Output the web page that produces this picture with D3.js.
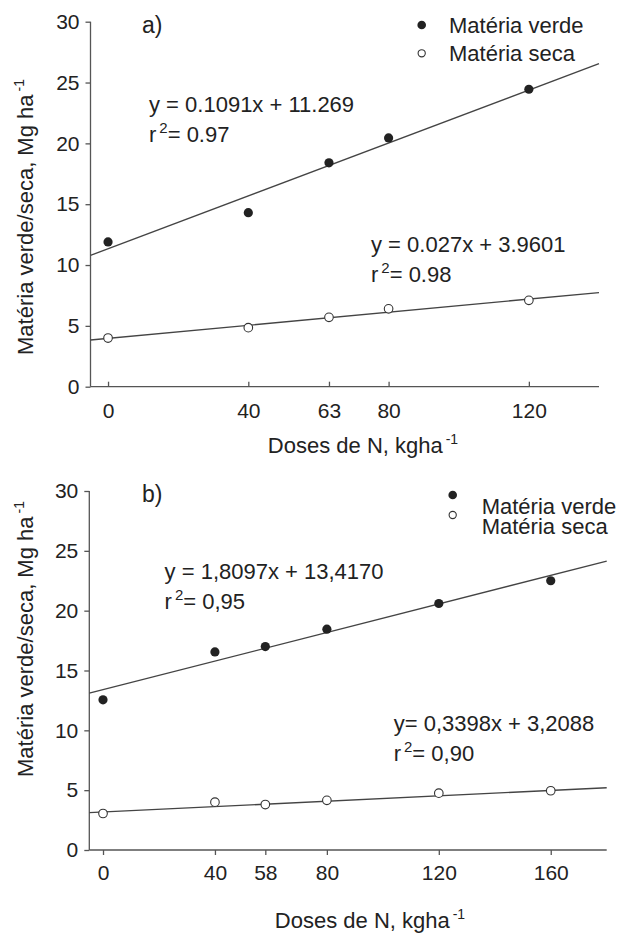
<!DOCTYPE html>
<meta charset="utf-8">
<head>
    <title>Matéria verde e seca</title>
</head>
<style>
    body { margin: 0; background: #fff; }
    text { font-family: "Liberation Sans", Arial, sans-serif; fill: #222; }
</style>
<div id="chart"></div>
<script src="https://d3js.org/d3.v7.min.js"></script>
<script>

    // panel a)
    var dosesA = [0, 40, 63, 80, 120];
    var verdeA = [11.9, 14.3, 18.4, 20.45, 24.45];
    var secaA = [4.0, 4.85, 5.7, 6.4, 7.1];
    var fitVerdeA = [[-5, 10.8], [140, 26.55]];
    var fitSecaA = [[-5, 3.84], [140, 7.74]];
    var eqA = [["y = 0.1091x + 11.269", "0.97"], ["y = 0.027x + 3.9601", "0.98"]];

    // panel b)
    var dosesB = [0, 40, 58, 80, 120, 160];
    var verdeB = [12.55, 16.55, 17.0, 18.45, 20.6, 22.5];
    var secaB = [3.05, 4.0, 3.8, 4.15, 4.75, 4.95];
    var fitVerdeB = [[-4.9, 13.1], [180, 24.15]];
    var fitSecaB = [[-4.9, 3.12], [180, 5.2]];
    var eqB = [["y = 1,8097x + 13,4170", "0,95"], ["y= 0,3398x + 3,2088", "0,90"]];

    var yTicks = [0, 5, 10, 15, 20, 25, 30];
    var seriesNames = ["Matéria verde", "Matéria seca"];
    var yTitle = "Matéria verde/seca, Mg ha";
    var xTitle = "Doses de N, kgha";

    var svg = d3.select("#chart")
      .append("svg")
        .attr("width", 617)
        .attr("height", 933);

    function supText(g, x, y, main, sup, size, anchor) {
        var t = g.append("text")
            .attr("x", x)
            .attr("y", y)
            .attr("text-anchor", anchor || "start")
            .style("font-size", size + "px");
        t.append("tspan").text(main);
        t.append("tspan").attr("dy", -9).attr("dx", 3).style("font-size", "14px").text(sup);
        return t;
    }

    function eqText(g, x, y, eq) {
        g.append("text")
            .attr("x", x)
            .attr("y", y)
            .style("font-size", "22px")
            .text(eq[0]);
        var t = g.append("text")
            .attr("x", x)
            .attr("y", y + 30)
            .style("font-size", "22px");
        t.append("tspan").text("r");
        t.append("tspan").attr("dy", -9).attr("dx", 3).style("font-size", "15px").text("2");
        t.append("tspan").attr("dy", 9).text("= " + eq[1]);
    }

    function drawPanel(p) {
        var g = svg.append("g");

        var x = d3.scaleLinear().domain(p.xDomain).range([p.left, p.right]);
        var y = d3.scaleLinear().domain([0, 30]).range([p.bottom, p.top]);

        var yAxis = g.append("g")
            .attr("transform", "translate(" + p.left + ",0)")
            .call(d3.axisLeft(y).tickValues(yTicks).tickSize(5).tickPadding(6));
        yAxis.select(".domain").attr("d", "M0," + y(30) + "V" + p.bottom);

        var xAxis = g.append("g")
            .attr("transform", "translate(0," + p.bottom + ")")
            .call(d3.axisBottom(x).tickValues(p.doses).tickSize(p.tickDir * 5).tickPadding(p.tickDir < 0 ? 16 : 10));
        xAxis.select(".domain").attr("d", "M" + p.left + ",0H" + p.right);

        g.selectAll(".domain, .tick line").attr("stroke", "#555").attr("stroke-width", 1.3);
        g.selectAll(".tick text")
            .style("font-size", "21px")
            .style("font-family", "'Liberation Sans', Arial, sans-serif")
            .attr("fill", "#222");

        var line = d3.line()
            .x(function(d) { return x(d[0]); })
            .y(function(d) { return y(d[1]); });

        [p.fitVerde, p.fitSeca].forEach(function(f) {
            g.append("path")
                .attr("d", line(f))
                .attr("fill", "none")
                .attr("stroke", "#444")
                .attr("stroke-width", 1.3);
        });

        g.selectAll(".verde")
            .data(p.doses)
            .enter()
            .append("circle")
            .attr("cx", function(d) { return x(d); })
            .attr("cy", function(d, i) { return y(p.verde[i]); })
            .attr("r", 4.6)
            .attr("fill", "#222");

        g.selectAll(".seca")
            .data(p.doses)
            .enter()
            .append("circle")
            .attr("cx", function(d) { return x(d); })
            .attr("cy", function(d, i) { return y(p.seca[i]); })
            .attr("r", 4.3)
            .attr("fill", "#fff")
            .attr("stroke", "#333")
            .attr("stroke-width", 1.1);

        g.append("text")
            .attr("x", 142)
            .attr("y", p.top + 11)
            .style("font-size", "23px")
            .text(p.label);

        eqText(g, p.eq1[0], p.eq1[1], p.eqs[0]);
        eqText(g, p.eq2[0], p.eq2[1], p.eqs[1]);

        // legend
        g.append("circle").attr("cx", p.leg[0]).attr("cy", p.leg[1]).attr("r", 4.3).attr("fill", "#222");
        g.append("circle").attr("cx", p.leg[0]).attr("cy", p.leg[1] + p.leg[2]).attr("r", 3.6)
            .attr("fill", "#fff").attr("stroke", "#333").attr("stroke-width", 1.1);
        g.append("text").attr("x", p.leg[3]).attr("y", p.leg[4])
            .style("font-size", "22px").text(seriesNames[0]);
        g.append("text").attr("x", p.leg[3]).attr("y", p.leg[4] + p.leg[5])
            .style("font-size", "22px").text(seriesNames[1]);

        supText(g, p.xt[0], p.xt[1], xTitle, "-1", 22, "middle");

        var yt = supText(g, 0, 0, yTitle, "-1", 22, "middle");
        yt.attr("transform", "translate(" + 33 + "," + p.yt + ") rotate(-90)");
    }

    drawPanel({
        label: "a)", top: 21.7, bottom: 386.7, left: 90.5, right: 599,
        xDomain: [-5, 140], tickDir: -1,
        doses: dosesA, verde: verdeA, seca: secaA,
        fitVerde: fitVerdeA, fitSeca: fitSecaA, eqs: eqA,
        eq1: [149, 112], eq2: [371, 252],
        leg: [421.7, 25, 28.3, 449, 33, 28.3],
        xt: [363, 453], yt: 217
    });

    drawPanel({
        label: "b)", top: 491, bottom: 850, left: 89.3, right: 606.7,
        xDomain: [-4.9, 180], tickDir: 1,
        doses: dosesB, verde: verdeB, seca: secaB,
        fitVerde: fitVerdeB, fitSeca: fitSecaB, eqs: eqB,
        eq1: [164.6, 579], eq2: [393.7, 731],
        leg: [452.7, 495, 20, 481.7, 514, 19.5],
        xt: [370, 928], yt: 639
    });
</script>
